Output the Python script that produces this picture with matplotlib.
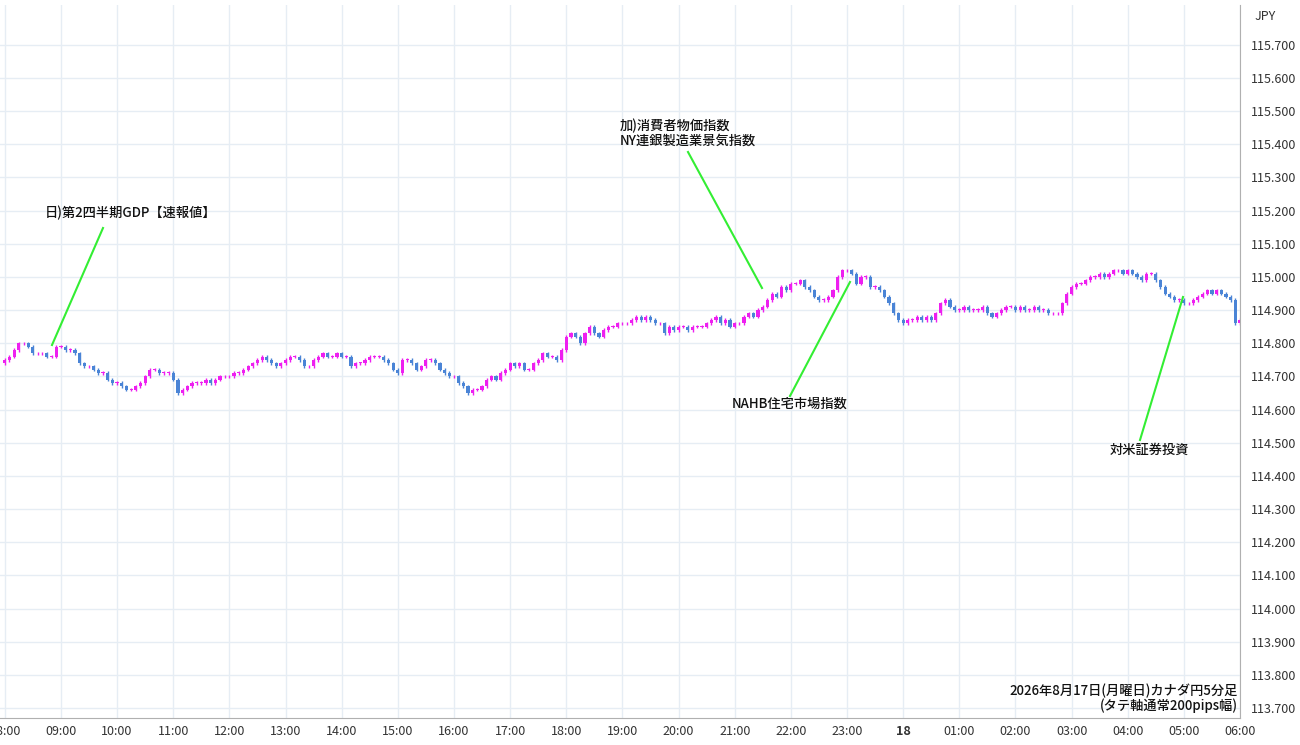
import matplotlib
matplotlib.use("Agg")
import matplotlib.pyplot as plt
from matplotlib.ticker import FuncFormatter
import numpy as np

plt.rcParams['font.family'] = ['Noto Sans CJK JP', 'DejaVu Sans']

start_hour = 8
closes = [
 114.75,114.76,114.78,114.80,114.80,114.79,114.77,114.77,114.77,114.76,114.76,114.79,
 114.79,114.78,114.78,114.77,114.74,114.73,114.73,114.72,114.71,114.71,114.69,114.68,
 114.68,114.67,114.66,114.66,114.67,114.68,114.70,114.72,114.72,114.71,114.71,114.71,
 114.69,114.65,114.66,114.67,114.68,114.68,114.68,114.69,114.68,114.69,114.70,114.70,
 114.70,114.71,114.71,114.72,114.73,114.74,114.75,114.76,114.75,114.74,114.73,114.74,
 114.75,114.76,114.76,114.75,114.73,114.73,114.75,114.76,114.77,114.76,114.76,114.77,
 114.76,114.76,114.73,114.74,114.74,114.75,114.76,114.76,114.76,114.75,114.74,114.72,
 114.71,114.75,114.75,114.74,114.72,114.73,114.75,114.75,114.74,114.72,114.71,114.70,
 114.70,114.68,114.67,114.65,114.66,114.66,114.67,114.69,114.70,114.69,114.71,114.72,
 114.74,114.73,114.74,114.72,114.72,114.74,114.75,114.77,114.76,114.76,114.75,114.78,
 114.82,114.83,114.82,114.80,114.83,114.85,114.83,114.82,114.84,114.85,114.85,114.86,
 114.86,114.86,114.87,114.88,114.87,114.88,114.87,114.86,114.86,114.83,114.85,114.84,
 114.85,114.85,114.84,114.85,114.85,114.85,114.86,114.87,114.88,114.86,114.87,114.85,
 114.86,114.86,114.88,114.89,114.88,114.90,114.91,114.93,114.95,114.94,114.97,114.96,
 114.98,114.98,114.99,114.97,114.96,114.94,114.93,114.93,114.94,114.96,115.00,115.02,
 115.02,115.01,114.98,115.00,115.00,114.97,114.97,114.96,114.94,114.92,114.89,114.87,
 114.86,114.87,114.87,114.88,114.87,114.88,114.87,114.89,114.92,114.93,114.91,114.90,
 114.90,114.91,114.90,114.90,114.90,114.91,114.89,114.88,114.89,114.90,114.91,114.91,
 114.90,114.91,114.90,114.90,114.91,114.90,114.90,114.89,114.89,114.89,114.92,114.95,
 114.97,114.98,114.98,114.99,115.00,115.00,115.01,115.00,115.01,115.02,115.02,115.01,
 115.02,115.01,115.00,114.99,115.01,115.01,114.99,114.97,114.95,114.94,114.93,114.93,
 114.92,114.92,114.93,114.94,114.95,114.96,114.95,114.96,114.95,114.94,114.93,114.86,
 114.87,
]
open0 = 114.74
wick = 0.005

y_ticks = [113.7 + 0.1*i for i in range(21)]
x_labels = ["08:00","09:00","10:00","11:00","12:00","13:00","14:00","15:00","16:00","17:00","18:00","19:00",
            "20:00","21:00","22:00","23:00","18","01:00","02:00","03:00","04:00","05:00","06:00"]

W, H = 1300, 745
fig = plt.figure(figsize=(W/100, H/100), dpi=100)
ax = fig.add_axes([0, 27/H, 1240/W, 1 - 32/H])

closes = np.array(closes)
opens = np.concatenate([[open0], closes[:-1]])
t = np.arange(len(closes)) * 5.0
up_c, dn_c = "#ee1ff0", "#4a84d6"
for ti, o, c in zip(t, opens, closes):
    col = up_c if c >= o else dn_c
    hi, lo = max(o, c) + wick, min(o, c) - wick
    ax.vlines(ti, lo, hi, color=col, lw=1)
    body = max(abs(c - o), 0.002)
    ax.bar(ti, body, bottom=min(o, c), width=3.4, color=col, lw=0)

px_per_min = 56.2 / 60
x0 = -4.8 / px_per_min
ax.set_xlim(x0, x0 + 1240 / px_per_min)
ax.set_ylim(113.67, 115.82)

xt = [60*i for i in range(len(x_labels))]
ax.set_xticks(xt)
ax.set_xticklabels(x_labels, fontsize=9, color="#333333")
for lbl, s in zip(ax.get_xticklabels(), x_labels):
    if s == "18":
        lbl.set_fontweight("bold")
ax.yaxis.tick_right()
ax.set_yticks(y_ticks)
ax.yaxis.set_major_formatter(FuncFormatter(lambda v, p: f"{v:.3f}"))
ax.tick_params(axis='y', labelsize=9, colors="#333333", length=0, pad=8)
ax.tick_params(axis='x', length=0, pad=5)
ax.grid(True, color="#e6edf4", lw=1)
ax.set_axisbelow(True)
for s in ["top", "left"]:
    ax.spines[s].set_visible(False)
ax.spines["right"].set_color("#b0b0b0")
ax.spines["bottom"].set_color("#b0b0b0")

fig.text(1265/W, 1 - 16/H, "JPY", fontsize=9, ha="center", va="center", color="#333333")

def ann(text, txy, line, ha="left"):
    fig.text(txy[0]/W, 1 - txy[1]/H, text, fontsize=9.5, ha=ha, va="top", linespacing=1.0,
             color="#111111", fontweight="medium")
    (x1, y1), (x2, y2) = line
    fig.add_artist(plt.Line2D([x1/W, x2/W], [1 - y1/H, 1 - y2/H], color="#33ee33", lw=1.5,
                              transform=fig.transFigure))

ann("日)第2四半期GDP【速報値】", (45, 206), ((103, 228), (52, 345)))
ann("加)消費者物価指数\nNY連銀製造業景気指数", (620, 119), ((688, 152), (762, 288)))
ann("NAHB住宅市場指数", (732, 397), ((790, 396), (850, 282)))
ann("対米証券投資", (1110, 443), ((1140, 440), (1183, 297)))
fig.text(1238/W, 1 - 684/H, "2026年8月17日(月曜日)カナダ円5分足\n(タテ軸通常200pips幅)", fontsize=9.5,
         ha="right", va="top", linespacing=1.0, color="#111111", fontweight="medium")

fig.savefig("out.png", dpi=100)
